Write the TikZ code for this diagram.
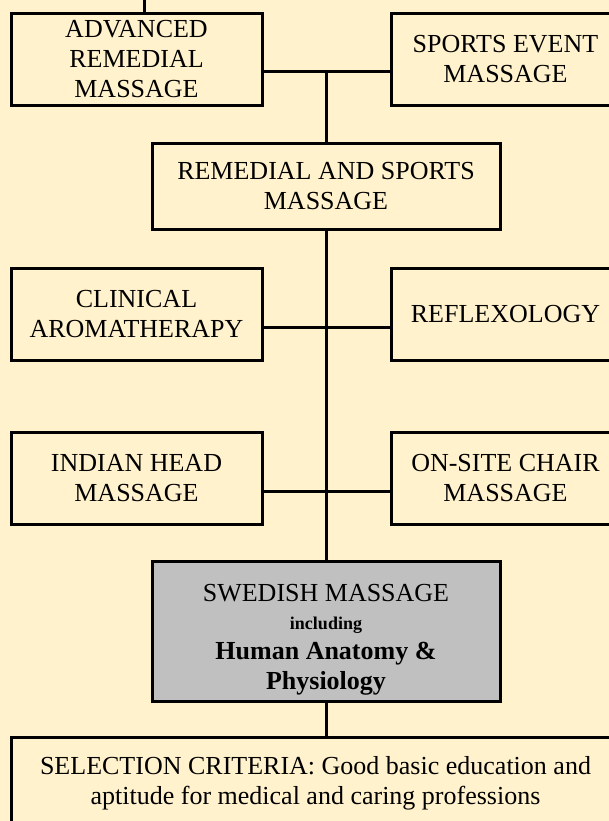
\documentclass[tikz,border=0pt]{standalone}
\usepackage{fontspec}
\setmainfont{Liberation Serif}
\definecolor{cream}{RGB}{255,242,204}
\definecolor{boxgrey}{RGB}{192,192,192}
\newcommand{\boxfont}{\fontsize{19.5}{22.5}\selectfont}
\tikzset{
  course/.style={draw, line width=2.25pt, fill=cream, inner sep=0pt, align=center, font=\boxfont},
  side/.style={course, minimum width=188.25pt, minimum height=69pt},
  right/.style={course, minimum width=171.75pt, minimum height=69pt},
  link/.style={line width=2.25pt},
}
\begin{document}
\begin{tikzpicture}[x=0.75pt, y=-0.75pt]
            \useasboundingbox (0,0) rectangle (609,821);
            \fill[cream] (0,0) rectangle (609,821);
            \begin{scope}
            \clip (0,0) rectangle (609,821);
            % upper row
            \node[side] (adv) at (136.5,59) {ADVANCED\\REMEDIAL\\MASSAGE};
            \node[right] (event) at (505.5,59) {SPORTS EVENT\\MASSAGE};
            \node[course, minimum width=261pt, minimum height=64.5pt] (rem) at (326,186) {REMEDIAL AND SPORTS\\MASSAGE};
            % side courses
            \node[side] (aroma) at (136.5,314) {CLINICAL\\AROMATHERAPY};
            \node[right] (reflex) at (505.5,314) {REFLEXOLOGY};
            \node[side] (head) at (136.5,478.5) {INDIAN HEAD\\MASSAGE};
            \node[right] (chair) at (505.5,478.5) {ON-SITE CHAIR\\MASSAGE};
            % base
            \node[course, fill=boxgrey, minimum width=261pt, minimum height=105pt] (swedish) at (326,631)
                {\rule{0pt}{26pt}SWEDISH MASSAGE\\[-1pt]{\bfseries\fontsize{13.5}{16}\selectfont including}\\{\bfseries Human Anatomy \&}\\{\bfseries Physiology}};
            \node[course, minimum width=456.75pt, minimum height=69.75pt] (select) at (315.5,783.5)
                {SELECTION CRITERIA: Good basic education and\\aptitude for medical and caring professions};
            % connectors
            \coordinate (top) at (144,0);
            \coordinate (j1) at (326,71);
            \coordinate (j2) at (326,327);
            \coordinate (j3) at (326,491);
            \draw[link] (top) -- (adv.north -| top);
            \draw[link] (adv.east |- j1) -- (event.west |- j1);
            \draw[link] (j1) -- (rem.north);
            \draw[link] (rem.south) -- (swedish.north);
            \draw[link] (aroma.east |- j2) -- (reflex.west |- j2);
            \draw[link] (head.east |- j3) -- (chair.west |- j3);
            \draw[link] (swedish.south) -- (swedish.south |- select.north);
            \end{scope}
        \end{tikzpicture}
\end{document}
